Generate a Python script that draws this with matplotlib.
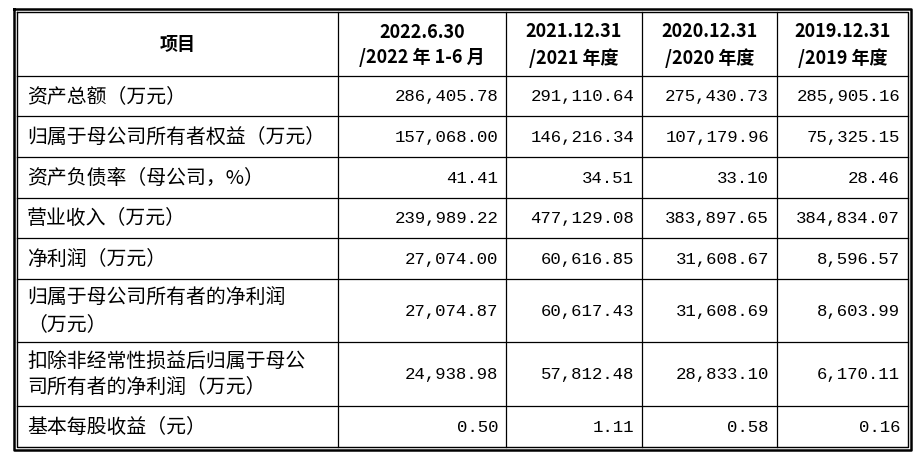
import matplotlib
matplotlib.use("Agg")
import matplotlib.pyplot as plt

# table content
headers = ["项目", "2022.6.30\n/2022 年 1-6 月", "2021.12.31\n/2021 年度",
           "2020.12.31\n/2020 年度", "2019.12.31\n/2019 年度"]
items = ["资产总额（万元）", "归属于母公司所有者权益（万元）", "资产负债率（母公司，%）",
         "营业收入（万元）", "净利润（万元）", "归属于母公司所有者的净利润\n（万元）",
         "扣除非经常性损益后归属于母公\n司所有者的净利润（万元）", "基本每股收益（元）"]
v2022 = ["286,405.78", "157,068.00", "41.41", "239,989.22", "27,074.00", "27,074.87", "24,938.98", "0.50"]
v2021 = ["291,110.64", "146,216.34", "34.51", "477,129.08", "60,616.85", "60,617.43", "57,812.48", "1.11"]
v2020 = ["275,430.73", "107,179.96", "33.10", "383,897.65", "31,608.67", "31,608.69", "28,833.10", "0.58"]
v2019 = ["285,905.16", "75,325.15", "28.46", "384,834.07", "8,596.57", "8,603.99", "6,170.11", "0.16"]

# geometry in pixels
col_x = [17, 338, 506, 642, 777, 908]
row_y = [13, 77, 117, 158, 199, 239, 280, 343, 407, 448]

fig = plt.figure(figsize=(9.18, 4.6), dpi=100)
ax = fig.add_axes([0, 0, 1, 1])
ax.set_xlim(0, 918)
ax.set_ylim(460, 0)
ax.axis("off")

cjk = "Noto Sans CJK SC"
mono = "Liberation Mono"

# grid lines
for y in row_y[1:-1]:
    ax.plot([col_x[0], col_x[-1]], [y, y], color="black", lw=0.9)
for x in col_x[1:-1]:
    ax.plot([x, x], [row_y[0], row_y[-1]], color="black", lw=0.9)
# double outer border
for d, lw in [(0, 1.0), (-3, 1.8)]:
    ax.plot([col_x[0] + d, col_x[-1] - d, col_x[-1] - d, col_x[0] + d, col_x[0] + d],
            [row_y[0] + d, row_y[0] + d, row_y[-1] - d, row_y[-1] - d, row_y[0] + d],
            color="black", lw=lw)

# header
for i, h in enumerate(headers):
    cx = (col_x[i] + col_x[i + 1]) / 2
    ax.text(cx, (row_y[0] + row_y[1]) / 2, h, ha="center", va="center",
            fontsize=13, fontweight="bold", family=cjk, linespacing=1.45)

# body
cols = [v2022, v2021, v2020, v2019]
for r, name in enumerate(items):
    cy = (row_y[r + 1] + row_y[r + 2]) / 2
    ax.text(col_x[0] + 10, cy, name, ha="left", va="center", fontsize=14.3,
            family=cjk, linespacing=1.3)
    for c, vals in enumerate(cols):
        ax.text(col_x[c + 2] - 8, cy, vals[r], ha="right", va="center",
                fontsize=12.5, family=mono)

fig.savefig("out.png", dpi=100)
